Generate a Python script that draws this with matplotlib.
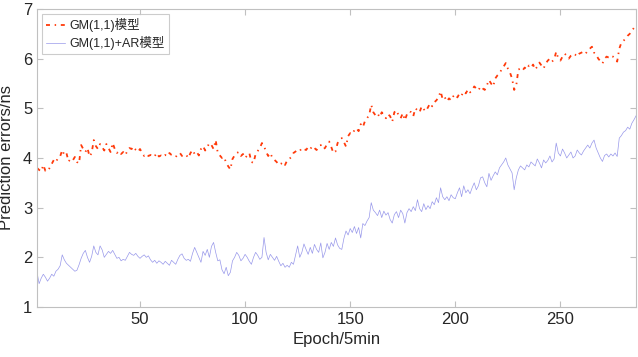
import matplotlib
matplotlib.use("Agg")
import matplotlib.pyplot as plt
import numpy as np

plt.rcParams["font.family"] = ["Liberation Sans", "Noto Sans CJK SC", "DejaVu Sans"]
plt.rcParams["font.size"] = 12

# GM(1,1) prediction errors, epochs 1..286
gm = [
    3.80, 3.76, 3.73, 3.86, 3.74, 3.73, 3.80, 3.88, 3.96, 3.92,
    4.00, 4.03, 4.16, 4.06, 4.10, 3.93, 3.98, 3.95, 4.02, 3.92,
    3.89, 4.26, 4.18, 4.12, 4.20, 4.03, 4.10, 4.36, 4.24, 4.18,
    4.28, 4.22, 4.15, 4.28, 4.20, 4.12, 4.30, 4.18, 4.10, 4.14,
    4.08, 4.12, 4.06, 4.14, 4.20, 4.18, 4.23, 4.16, 4.12, 4.18,
    4.10, 4.04, 4.08, 4.04, 4.06, 4.02, 4.04, 4.10, 4.03, 4.05,
    4.02, 4.06, 4.03, 4.10, 4.06, 4.04, 4.02, 4.08, 4.10, 4.04,
    4.03, 4.06, 4.00, 4.10, 4.16, 4.08, 4.12, 4.05, 4.18, 4.24,
    4.15, 4.22, 4.30, 4.26, 4.18, 4.36, 4.10, 4.05, 4.00, 4.02,
    3.90, 3.83, 3.77, 3.98, 4.05, 4.10, 4.12, 4.04, 4.08, 4.00,
    4.05, 4.10, 3.92, 3.90, 4.08, 4.14, 4.20, 4.30, 4.24, 4.12,
    4.04, 4.10, 4.00, 3.96, 3.92, 3.86, 3.88, 3.92, 3.86, 3.95,
    3.98, 4.02, 4.10, 4.13, 4.16, 4.14, 4.20, 4.18, 4.16, 4.22,
    4.18, 4.24, 4.20, 4.16, 4.22, 4.26, 4.18, 4.20, 4.28, 4.33,
    4.22, 4.10, 4.13, 4.30, 4.36, 4.40, 4.32, 4.23, 4.44, 4.50,
    4.48, 4.56, 4.60, 4.54, 4.68, 4.62, 4.74, 4.80, 4.86, 5.07,
    4.92, 4.86, 4.90, 4.82, 4.92, 4.86, 4.80, 4.88, 4.84, 4.73,
    4.92, 4.96, 4.86, 4.80, 4.90, 4.76, 4.88, 4.94, 4.92, 4.84,
    5.00, 4.96, 4.92, 5.04, 4.98, 4.94, 5.02, 5.10, 5.04, 5.12,
    5.16, 5.22, 5.34, 5.18, 5.22, 5.14, 5.20, 5.16, 5.24, 5.28,
    5.22, 5.30, 5.26, 5.34, 5.30, 5.38, 5.32, 5.36, 5.44, 5.40,
    5.36, 5.44, 5.40, 5.37, 5.46, 5.57, 5.50, 5.44, 5.60, 5.66,
    5.70, 5.78, 5.84, 5.91, 5.80, 5.72, 5.60, 5.37, 5.46, 5.78,
    5.80, 5.76, 5.82, 5.78, 5.86, 5.82, 5.88, 5.78, 5.84, 5.92,
    5.86, 5.80, 5.90, 5.96, 6.00, 5.94, 5.98, 6.14, 6.00, 5.96,
    6.04, 6.10, 6.06, 6.00, 6.06, 6.10, 6.08, 6.04, 6.10, 6.12,
    6.14, 6.10, 6.16, 6.20, 6.24, 6.12, 6.08, 6.00, 5.95, 5.90,
    6.00, 6.04, 6.02, 6.06, 6.04, 6.00, 5.94, 6.20, 6.32, 6.36,
    6.40, 6.46, 6.50, 6.56, 6.62, 6.66,
]

# GM(1,1)+AR prediction errors
gm_ar = [
    1.70, 1.47, 1.58, 1.66, 1.60, 1.52, 1.58, 1.66, 1.62, 1.72,
    1.76, 1.83, 2.05, 1.95, 1.88, 1.84, 1.80, 1.76, 1.72, 1.74,
    1.85, 1.98, 2.08, 2.14, 2.00, 1.90, 2.02, 2.23, 2.10, 2.05,
    2.23, 2.15, 2.00, 2.06, 2.12, 2.08, 2.14, 2.06, 1.98, 2.00,
    1.93, 1.96, 1.94, 2.02, 2.10, 2.06, 2.04, 2.08, 2.02, 1.98,
    2.02, 2.05, 2.00, 2.03, 1.95, 1.90, 1.94, 1.88, 1.93, 1.90,
    1.86, 1.92, 1.88, 1.84, 1.94, 1.90, 1.86, 1.96, 2.04, 2.07,
    1.98, 1.94, 1.96, 1.92, 2.08, 2.20, 2.10, 2.00, 1.90, 2.12,
    2.04, 2.16, 2.00, 2.22, 2.30, 2.10, 1.93, 1.95, 1.75, 1.67,
    1.80, 1.63, 1.70, 1.93, 2.00, 2.10, 2.04, 1.93, 1.98, 2.06,
    2.00, 1.92, 1.86, 2.00, 2.10, 2.04, 1.96, 2.00, 2.40, 2.10,
    1.95, 2.06, 2.00, 1.94, 2.02, 1.92, 1.83, 1.88, 1.80, 1.84,
    1.80, 1.90, 1.86, 2.05, 2.23, 2.00, 2.10, 2.27, 2.16, 2.06,
    2.20, 2.08, 2.26, 2.16, 2.10, 2.29, 1.99, 2.10, 2.28, 2.16,
    2.30, 2.22, 2.39, 2.25, 2.18, 2.16, 2.38, 2.53, 2.45, 2.58,
    2.50, 2.62, 2.48, 2.60, 2.39, 2.68, 2.64, 2.73, 2.80, 3.10,
    2.95, 2.90, 2.84, 2.95, 2.80, 2.93, 2.85, 2.90, 2.76, 2.69,
    2.86, 2.92, 2.80, 2.95, 2.88, 2.69, 2.90, 2.98, 2.92, 3.02,
    2.94, 3.16, 2.98, 2.92, 3.08, 2.96, 3.04, 2.98, 3.12, 3.06,
    3.20, 3.10, 3.40, 3.22, 3.16, 3.22, 3.14, 3.26, 3.20, 3.18,
    3.30, 3.40, 3.22, 3.44, 3.30, 3.36, 3.28, 3.40, 3.50, 3.36,
    3.44, 3.60, 3.62, 3.50, 3.42, 3.69, 3.55, 3.64, 3.72, 3.66,
    3.80, 3.86, 3.92, 4.00, 3.86, 3.78, 3.70, 3.36, 3.60, 3.76,
    3.84, 3.80, 3.76, 3.86, 3.82, 3.92, 3.88, 3.84, 3.98, 3.90,
    3.80, 3.96, 3.90, 3.95, 4.04, 3.92, 3.98, 4.30, 4.10, 4.04,
    4.18, 4.10, 4.00, 4.06, 4.12, 4.00, 4.04, 4.16, 4.10, 4.06,
    4.14, 4.20, 4.26, 4.20, 4.30, 4.36, 4.20, 4.10, 4.00, 3.93,
    4.05, 4.08, 4.02, 4.08, 4.04, 4.10, 4.03, 4.40, 4.45, 4.52,
    4.55, 4.62, 4.58, 4.70, 4.77, 4.85,
]

epochs = np.arange(1, len(gm) + 1)

fig = plt.figure(figsize=(6.38, 3.57), dpi=100)
ax = fig.add_axes([0.058, 0.14, 0.939, 0.835])

ax.plot(epochs, gm, color="#ff3a0a", linestyle=(0, (2.2, 2.6, 0.8, 2.6)),
        linewidth=1.3, label="GM(1,1)模型")
ax.plot(epochs, gm_ar, color="#9898ea", linewidth=0.5, label="GM(1,1)+AR模型")

ax.set_xlim(1, 286)
ax.set_ylim(1, 7)
ax.set_xticks([50, 100, 150, 200, 250])
ax.set_yticks([1, 2, 3, 4, 5, 6, 7])
ax.set_xlabel("Epoch/5min", color="#262626", labelpad=4)
ax.set_ylabel("Prediction errors/ns", color="#262626", labelpad=6)

for s in ax.spines.values():
    s.set_color("#c0c0c0")
ax.tick_params(direction="in", top=True, right=True, colors="#c0c0c0",
               labelcolor="#262626", labelsize=12, length=4)

leg = ax.legend(loc="upper left", fontsize=9, frameon=True, fancybox=False,
                borderpad=0.35, handlelength=1.5, handletextpad=0.3,
                labelspacing=0.3, borderaxespad=0.4)
leg.get_frame().set_edgecolor("#c0c0c0")
leg.get_frame().set_linewidth(0.8)
for t in leg.get_texts():
    t.set_color("#262626")

fig.savefig("out.png", dpi=100)
